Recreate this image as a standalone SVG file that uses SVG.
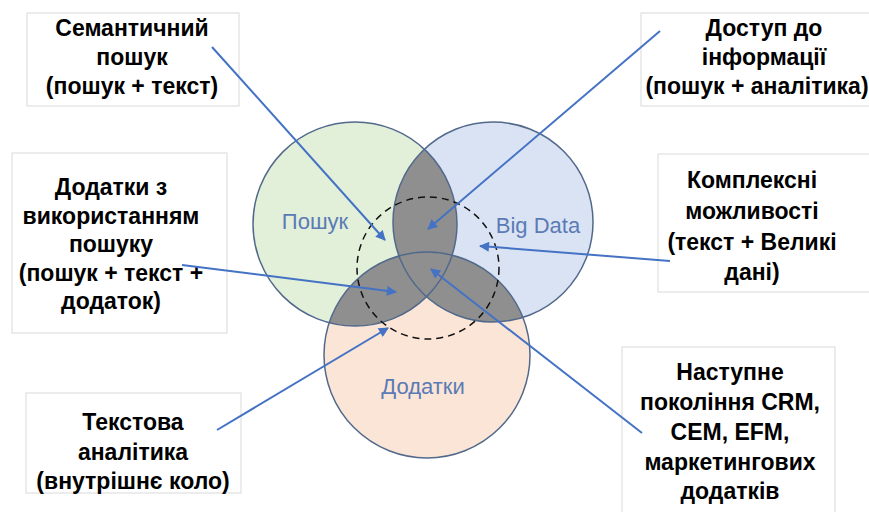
<svg xmlns="http://www.w3.org/2000/svg" width="869" height="512" viewBox="0 0 869 512">
<style>
.box{fill:#fff;stroke:#d9d9d9;stroke-width:1}
.bt{font-family:"Liberation Sans",Arial,sans-serif;font-weight:bold;font-size:23px;fill:#000;text-anchor:middle}
.cl{font-family:"Liberation Sans",Arial,sans-serif;font-size:22px;fill:#5a7bb5;text-anchor:middle}
.ring{fill:none;stroke:#52698c;stroke-width:1.5}
.gray{fill:#8f8f8f}
.arr{stroke:#4472c4;stroke-width:2;fill:none;marker-end:url(#ah)}
</style>
<defs>
<marker id="ah" viewBox="0 0 10 10" refX="9" refY="5" markerWidth="6" markerHeight="5" orient="auto" markerUnits="strokeWidth"><path d="M0,0 L10,5 L0,10 z" fill="#4472c4"/></marker>
<clipPath id="cA"><circle cx="355" cy="224" r="102"/></clipPath>
<clipPath id="cB"><circle cx="493" cy="222" r="100"/></clipPath>
<clipPath id="cC"><circle cx="427" cy="355" r="103"/></clipPath>
</defs>
<rect width="869" height="512" fill="#fff"/>
<g id="venn">
<circle cx="355" cy="224" r="102" fill="#e2efd9"/>
<circle cx="493" cy="222" r="100" fill="#dae3f3"/>
<circle cx="427" cy="355" r="103" fill="#fbe5d6"/>
<circle class="gray" cx="355" cy="224" r="102" clip-path="url(#cB)"/>
<circle class="gray" cx="355" cy="224" r="102" clip-path="url(#cC)"/>
<circle class="gray" cx="493" cy="222" r="100" clip-path="url(#cC)"/>
<circle class="ring" cx="355" cy="224" r="102"/>
<circle class="ring" cx="493" cy="222" r="100"/>
<circle class="ring" cx="427" cy="355" r="103"/>
<circle cx="428" cy="268" r="71" fill="none" stroke="#111" stroke-width="1.5" stroke-dasharray="7,5"/>
<text class="cl" x="315" y="229">Пошук</text>
<text class="cl" x="538" y="233">Big Data</text>
<text class="cl" x="423" y="394">Додатки</text>
</g>
<g id="n1"><rect class="box" x="27" y="13" width="212" height="93"/>
<text class="bt" x="132" y="36">Семантичний</text><text class="bt" x="132" y="65">пошук</text><text class="bt" x="132" y="94">(пошук + текст)</text></g>
<g id="n2"><rect class="box" x="641" y="13" width="240" height="93"/>
<text class="bt" x="764" y="36">Доступ до</text><text class="bt" x="764" y="65">інформації</text><text class="bt" x="757" y="94">(пошук + аналітика)</text></g>
<g id="n3"><rect class="box" x="12" y="153" width="215" height="180"/>
<text class="bt" x="111" y="195">Додатки з</text><text class="bt" x="111" y="224">використанням</text><text class="bt" x="111" y="252">пошуку</text><text class="bt" x="111" y="281">(пошук + текст +</text><text class="bt" x="111" y="309">додаток)</text></g>
<g id="n4"><rect class="box" x="658" y="154" width="230" height="138"/>
<text class="bt" x="752" y="188">Комплексні</text><text class="bt" x="752" y="219">можливості</text><text class="bt" x="752" y="250">(текст + Великі</text><text class="bt" x="752" y="280">дані)</text></g>
<g id="n5"><rect class="box" x="26" y="393" width="215" height="100"/>
<text class="bt" x="133" y="430">Текстова</text><text class="bt" x="133" y="460">аналітика</text><text class="bt" x="133" y="489">(внутрішнє коло)</text></g>
<g id="n6"><rect class="box" x="622" y="347" width="213" height="175"/>
<text class="bt" x="730" y="380">Наступне</text><text class="bt" x="730" y="410">покоління CRM,</text><text class="bt" x="730" y="440">CEM, EFM,</text><text class="bt" x="730" y="470">маркетингових</text><text class="bt" x="730" y="499">додатків</text></g>
<g id="connectors">
<line class="arr" x1="212" y1="47" x2="385" y2="240"/>
<line class="arr" x1="660" y1="31" x2="428" y2="229"/>
<line class="arr" x1="182" y1="265" x2="396" y2="292"/>
<line class="arr" x1="670" y1="261" x2="480" y2="246"/>
<line class="arr" x1="642" y1="433" x2="431" y2="269"/>
<line class="arr" x1="217" y1="430" x2="388" y2="328"/>
</g>
</svg>
